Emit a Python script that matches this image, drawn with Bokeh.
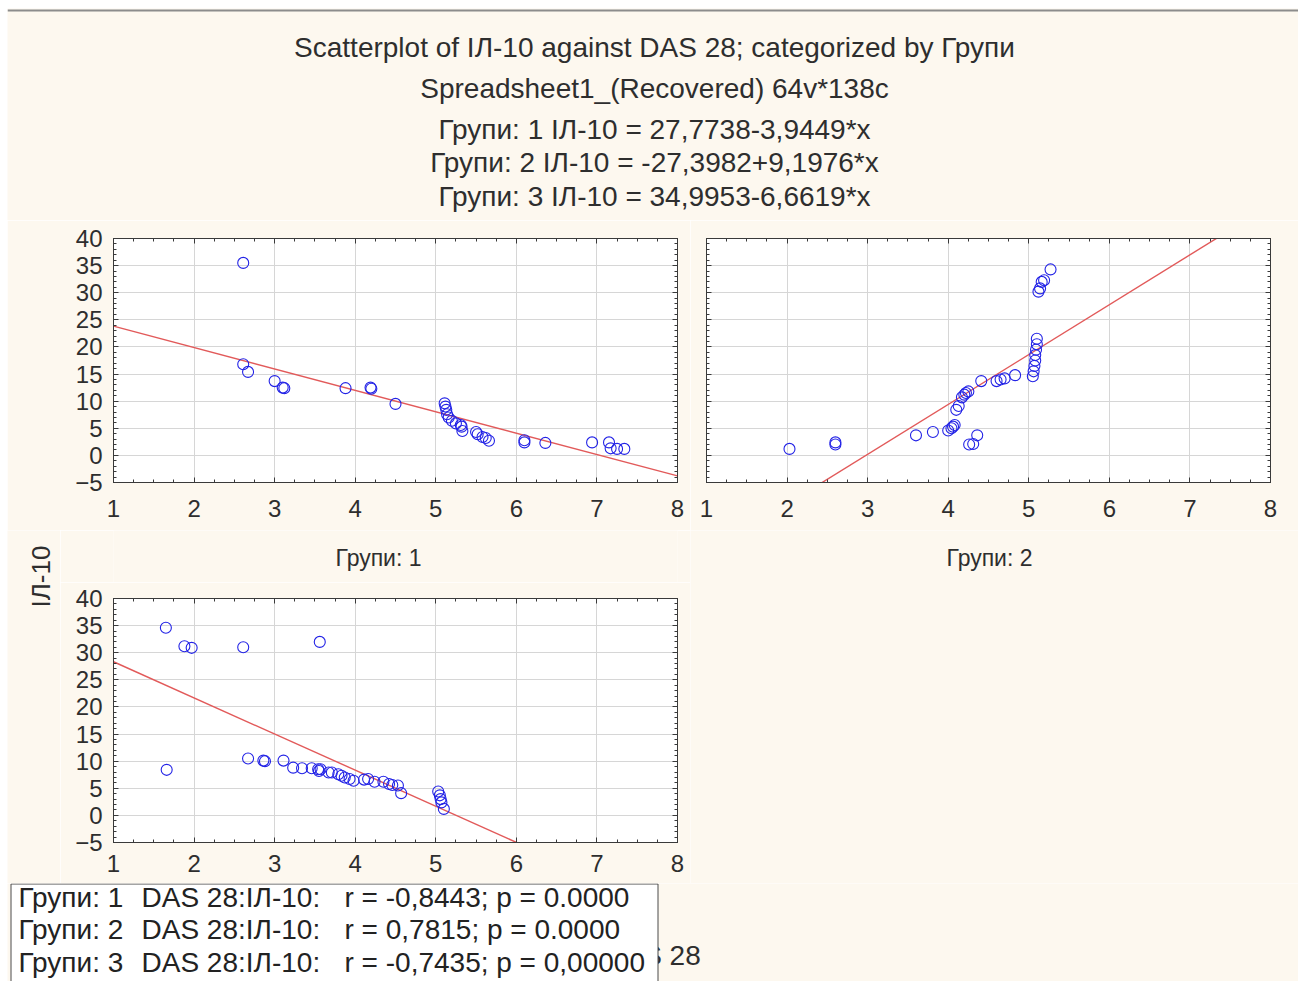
import math
from bokeh.plotting import figure
from bokeh.layouts import column, row
from bokeh.models import Range1d, FixedTicker, LinearAxis, Span, Grid, Spacer
from bokeh.core.properties import value
from bokeh.embed import file_html
from bokeh.resources import INLINE

# ---------------- data ----------------
groups = ["1", "2", "3"]
x_ticks = [1, 2, 3, 4, 5, 6, 7, 8]
y_ticks = [-5, 0, 5, 10, 15, 20, 25, 30, 35, 40]

g1_das = [2.61, 2.61, 2.67, 3.00, 3.10, 3.12, 3.88, 4.19, 4.20, 4.50, 5.11, 5.12, 5.13, 5.14,
          5.16, 5.20, 5.25, 5.31, 5.32, 5.33, 5.50, 5.52, 5.58, 5.62, 5.66, 6.10, 6.10, 6.36,
          6.94, 7.15, 7.17, 7.25, 7.34]
g1_il10 = [35.5, 16.8, 15.4, 13.7, 12.5, 12.4, 12.4, 12.5, 12.3, 9.5, 9.6, 9.0, 8.4, 7.6,
           7.0, 6.4, 5.9, 5.6, 5.3, 4.5, 4.3, 3.9, 3.4, 3.2, 2.7, 2.8, 2.4, 2.3,
           2.4, 2.4, 1.3, 1.2, 1.2]

g2_das = [2.03, 2.60, 2.60, 3.60, 3.81, 4.00, 4.04, 4.06, 4.08, 4.10, 4.13, 4.17, 4.20, 4.22,
          4.25, 4.26, 4.31, 4.36, 4.41, 4.60, 4.65, 4.70, 4.83, 5.05, 5.06, 5.07, 5.08, 5.08,
          5.09, 5.10, 5.10, 5.12, 5.14, 5.16, 5.19, 5.27]
g2_il10 = [1.2, 2.4, 2.0, 3.7, 4.3, 4.6, 5.0, 5.3, 5.6, 8.4, 9.1, 10.7, 11.2, 11.5,
           11.8, 2.0, 2.1, 3.7, 13.7, 13.7, 14.0, 14.2, 14.8, 14.6, 15.5, 16.5, 17.5, 18.5,
           19.5, 20.5, 21.5, 30.2, 30.8, 32.0, 32.3, 34.3]

g3_das = [1.65, 1.66, 1.88, 1.97, 2.61, 2.67, 2.86, 2.88, 3.11, 3.23, 3.34, 3.46, 3.54, 3.55,
          3.56, 3.57, 3.67, 3.71, 3.79, 3.83, 3.87, 3.93, 3.98, 4.11, 4.16, 4.24, 4.35, 4.42,
          4.46, 4.53, 4.57, 5.03, 5.05, 5.06, 5.07, 5.10]
g3_il10 = [34.6, 8.4, 31.2, 30.9, 31.0, 10.5, 10.1, 10.0, 10.1, 8.8, 8.7, 8.7, 8.5, 8.2,
           32.0, 8.5, 7.9, 7.9, 7.6, 7.3, 7.0, 6.7, 6.4, 6.6, 6.7, 6.2, 6.2, 5.8,
           5.6, 5.5, 4.1, 4.4, 3.7, 3.0, 2.4, 1.2]

intercepts = [27.7738, -27.3982, 34.9953]
slopes = [-3.9449, 9.1976, -6.6619]
r_values = ["-0,8443", "0,7815", "-0,7435"]
p_values = ["0.0000", "0.0000", "0,00000"]

title_lines = [
    "Scatterplot of ІЛ-10 against DAS 28; categorized by Групи",
    "Spreadsheet1_(Recovered) 64v*138c",
]
x_label = "DAS 28"
y_label = "ІЛ-10"

# ---------------- style ----------------
CREAM = "#fdf8ef"
FONT = "Liberation Sans"
TXT = "#2e2e2e"
FRAME = "#3a3a3a"
GRID = "#d6d6d6"
BLUE = "#2323e6"
RED = "#e25a5a"


def fmt(v):
    return f"{abs(v):.4f}".replace(".", ",")


eq_lines = []
for g, a, b in zip(groups, intercepts, slopes):
    eq_lines.append(f"Групи: {g} ІЛ-10 = {'-' if a < 0 else ''}{fmt(a)}{'+' if b > 0 else '-'}{fmt(b)}*x")


def text_fig(w, h, bl=0, br=0):
    f = figure(width=w, height=h, x_range=Range1d(0, w - bl - br), y_range=Range1d(0, h),
               output_backend="svg", toolbar_location=None, x_axis_type=None, y_axis_type=None,
               min_border=0, min_border_left=bl, min_border_right=br)
    f.outline_line_color = None
    f.background_fill_color = CREAM
    f.border_fill_color = CREAM
    return f


# ---------------- header (page y 8..220) ----------------
HW, HH = 1291, 212
header = text_fig(HW, HH)
header.add_layout(Span(location=HH - 2, dimension="width", line_color="#8c8c8c", line_width=2))
all_lines = title_lines + eq_lines
line_y = [HH - 39, HH - 80, HH - 121, HH - 154, HH - 188]
header.text(x=[647] * len(all_lines), y=line_y, text=all_lines,
            text_font=value(FONT), text_font_size="28px", text_color=TXT,
            text_align="center", text_baseline="middle")

x_minor = [1 + i * 0.25 for i in range(29)]
y_minor = [-5 + i for i in range(46)]


def make_panel(width, height, bl, br, bt, bb, ylabels=True, xstand=17):
    xt = FixedTicker(ticks=x_ticks, minor_ticks=x_minor)
    yt = FixedTicker(ticks=y_ticks, minor_ticks=y_minor)
    p = figure(width=width, height=height, x_range=Range1d(1, 8), y_range=Range1d(-5, 40),
               output_backend="svg", toolbar_location=None, x_axis_type=None, y_axis_type=None,
               min_border_left=bl, min_border_right=br, min_border_top=bt, min_border_bottom=bb)
    p.background_fill_color = "white"
    p.border_fill_color = CREAM
    p.outline_line_color = FRAME
    p.outline_line_width = 1
    for loc in ["below", "above", "left", "right"]:
        ax = LinearAxis(ticker=xt if loc in ("below", "above") else yt)
        ax.major_tick_in = 5
        ax.major_tick_out = 0
        ax.minor_tick_in = 3
        ax.minor_tick_out = 0
        ax.axis_line_color = FRAME
        ax.major_tick_line_color = FRAME
        ax.minor_tick_line_color = FRAME
        show = loc == "below" or (loc == "left" and ylabels)
        if show:
            ax.major_label_text_font = FONT
            ax.major_label_text_font_size = "24px"
            ax.major_label_text_color = TXT
            ax.major_label_standoff = xstand if loc == "below" else 11
        else:
            ax.major_label_text_color = None
            ax.major_label_standoff = 0
        p.add_layout(ax, loc)
    p.add_layout(Grid(dimension=0, ticker=xt, grid_line_color=GRID, grid_line_width=1))
    p.add_layout(Grid(dimension=1, ticker=yt, grid_line_color=GRID, grid_line_width=1))
    return p


# band B (page y 220..530)
BH = 310
p1 = make_panel(683, BH, 106, 13, 18, 48)
p2 = make_panel(608, BH, 16, 28, 18, 48, ylabels=False)
# band C (page y 530..883): label strip (530..582) + panel 3 (582..883)
CH = 353
TOPH = 52
p3 = make_panel(630, CH - TOPH, 53, 13, 16, 41, xstand=12)

data = [(g1_das, g1_il10), (g2_das, g2_il10), (g3_das, g3_il10)]
for p, (xs, ys), a, b in zip([p1, p2, p3], data, intercepts, slopes):
    p.line(x=[x_ticks[0], x_ticks[-1]], y=[a + b * x_ticks[0], a + b * x_ticks[-1]],
           line_color=RED, line_width=1.4)
    p.scatter(x=xs, y=ys, marker="circle", size=11, fill_color=None,
              line_color=BLUE, line_width=1.1)

topbar = text_fig(630, TOPH, bl=53, br=13)
topbar.text(x=[265], y=[TOPH - 27], text=[f"Групи: {groups[0]}"],
            text_font=value(FONT), text_font_size="23px", text_color=TXT,
            text_align="center", text_baseline="middle")

leftfig = text_fig(53, CH)
leftfig.text(x=[33], y=[CH - 46], text=[y_label], angle=math.pi / 2,
             text_font=value(FONT), text_font_size="26px", text_color=TXT,
             text_align="center", text_baseline="middle")

rightfig = text_fig(608, CH)
rightfig.text(x=[299], y=[CH - 27], text=[f"Групи: {groups[1]}"],
              text_font=value(FONT), text_font_size="23px", text_color=TXT,
              text_align="center", text_baseline="middle")

# band D (page y 883..981)
DH = 98
bottom = text_fig(HW, DH)
bottom.text(x=[645], y=[DH - 72], text=[x_label],
            text_font=value(FONT), text_font_size="28px", text_color=TXT,
            text_align="center", text_baseline="middle")
bottom.quad(left=[3.5], right=[650.5], top=[DH - 0.5], bottom=[-5],
            fill_color="white", line_color="#4a4a4a", line_width=1)
row_y = [DH - 14, DH - 46, DH - 79]
for g, r, pv, yy in zip(groups, r_values, p_values, row_y):
    cells = [f"Групи: {g}", "DAS 28:ІЛ-10:", f"r = {r}; p = {pv}"]
    bottom.text(x=[11, 134, 337], y=[yy] * 3, text=cells,
                text_font=value(FONT), text_font_size="28px", text_color="#222222",
                text_align="left", text_baseline="middle")

layout = column(
    Spacer(height=8, width=1298),
    row(Spacer(width=7, height=HH), header),
    row(Spacer(width=7, height=BH), p1, p2),
    row(Spacer(width=7, height=CH), column(leftfig), column(topbar, p3), column(rightfig)),
    row(Spacer(width=7, height=DH), bottom),
)
open("out.html", "w").write(file_html(layout, INLINE))
